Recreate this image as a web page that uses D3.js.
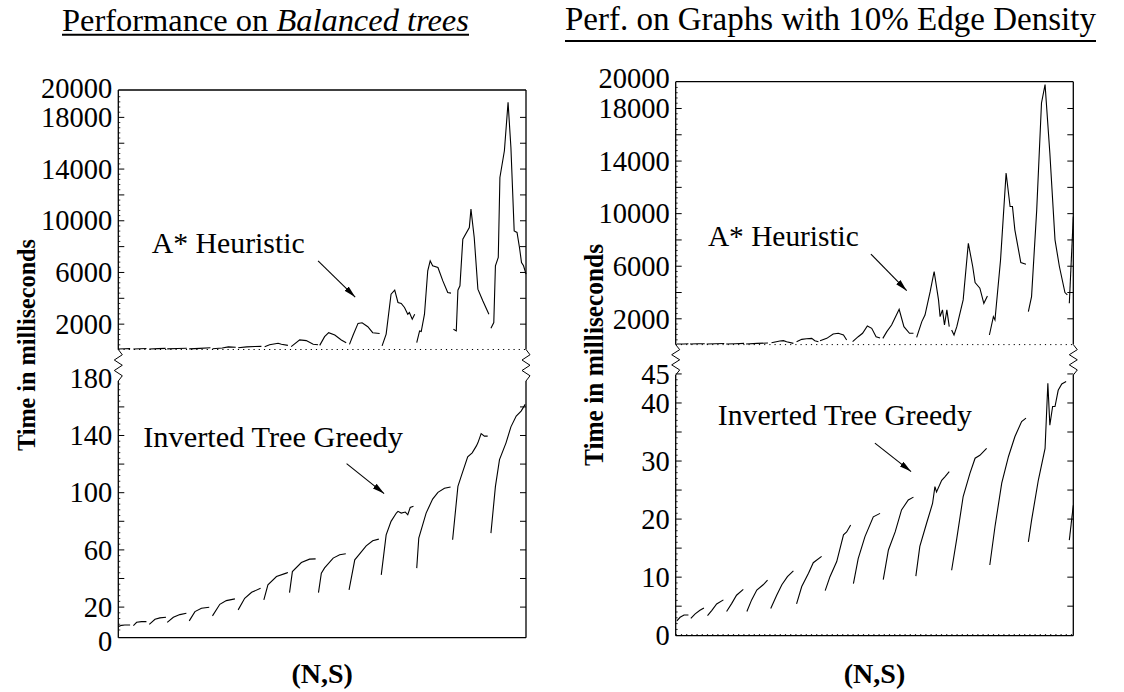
<!DOCTYPE html>
<html>
<head>
<meta charset="utf-8">
<script src="https://cdn.jsdelivr.net/npm/d3@7"></script>
<style>
  body { margin: 0; background: #fff; }
  svg text { font-family: "Liberation Serif", "Times New Roman", serif; fill: #000; }
</style>
</head>
<body>
<div id="container"></div>
<script>
/* global d3 */
const width = 1124;
const height = 692;

// x is the (N,S) case position, 0..100 across the panel; one sub-array per N group
const balancedAstar = [
  [[0, 40], [1.6, 60], [2.9, 70]],
  [[3.7, 40], [5.3, 60], [6.9, 80]],
  [[7.6, 40], [9.8, 70], [11.6, 90]],
  [[12.0, 50], [14.5, 80], [16.8, 100]],
  [[17.4, 50], [20.0, 90], [22.6, 130]],
  [[23.1, 60], [25.5, 110], [27.0, 200], [28.8, 170]],
  [[29.4, 140], [31.5, 200], [33.5, 230], [35.1, 240]],
  [[35.9, 220], [37.1, 370], [39.2, 480], [40.0, 400], [41.6, 320]],
  [[42.4, 220], [44.5, 740], [46.1, 690], [47.8, 400], [49.0, 370]],
  [[49.4, 320], [50.6, 990], [51.6, 1300], [53.1, 1120], [54.7, 740], [55.9, 530]],
  [[56.7, 400], [57.6, 1120], [58.8, 2020], [59.8, 2070], [61.2, 1760], [62.4, 1300], [64.1, 1240]],
  [[64.7, 280], [65.7, 1190], [66.9, 4280], [67.8, 4590], [68.6, 3640], [69.4, 3560], [70.2, 3250], [71.0, 2730], [71.4, 2860], [72.1, 2350], [72.7, 2730]],
  [[73.2, 540], [73.9, 1440], [74.3, 1390], [75.1, 2730], [75.9, 6090], [76.5, 6860], [77.1, 6480], [78.4, 6350], [79.6, 5310], [80.8, 4410], [81.6, 4360]],
  [[82.2, 1570], [82.9, 1440], [83.3, 4590], [83.8, 4930], [84.5, 8540], [86.1, 9440], [86.5, 10860], [87.3, 8670], [88.2, 4670], [89.4, 3770], [90.9, 2730]],
  [[91.4, 1650], [92.1, 2090], [92.5, 6480], [93.2, 7120], [93.6, 13310], [94.7, 15380], [95.6, 19120], [96.3, 15630], [97.1, 9180], [97.8, 9060], [98.4, 7890], [98.9, 6730], [99.4, 6480], [100, 5830]]
];

const balancedGreedy = [
  [[0, 6.0], [0.8, 6.9], [1.6, 7.1], [2.9, 7.1]],
  [[3.7, 6.7], [4.5, 9.0], [5.7, 9.5], [6.9, 9.5]],
  [[7.6, 7.6], [9.0, 11.1], [10.2, 12.1], [11.7, 12.5]],
  [[12.0, 9.0], [13.5, 12.5], [15.1, 14.4], [16.7, 15.3]],
  [[17.4, 10.0], [18.8, 16.5], [20.4, 18.8], [22.3, 19.5]],
  [[23.1, 13.5], [24.9, 21.6], [26.5, 24.2], [28.6, 25.4]],
  [[29.4, 17.7], [31.0, 25.8], [32.7, 30.0], [34.9, 32.8]],
  [[35.7, 24.7], [36.7, 35.2], [38.8, 41.0], [41.2, 43.4], [41.6, 43.8]],
  [[42.0, 29.8], [42.7, 44.5], [44.9, 50.8], [46.9, 53.2], [48.4, 53.4]],
  [[49.1, 29.8], [49.8, 43.4], [50.6, 47.1], [52.7, 53.9], [54.3, 56.2], [55.8, 56.9]],
  [[56.6, 31.7], [58.0, 52.7], [58.8, 55.5], [60.8, 62.5], [62.4, 66.0], [63.9, 67.2]],
  [[64.5, 42.2], [65.7, 70.2], [66.9, 79.6], [68.2, 85.4], [68.6, 86.6], [69.4, 85.4], [70.4, 86.1], [71.0, 84.2], [71.6, 89.3], [72.4, 90.1]],
  [[73.2, 46.9], [73.7, 67.9], [75.5, 85.4], [77.1, 95.2], [78.4, 99.9], [80.0, 102.7], [81.5, 103.6]],
  [[82.0, 66.7], [83.3, 104.1], [84.1, 111.1], [85.7, 124.7], [86.8, 127.5], [87.8, 132.2], [88.2, 134.5], [89.0, 141.0], [89.8, 139.2], [90.6, 139.2]],
  [[91.4, 71.4], [92.5, 104.1], [93.5, 122.8], [95.1, 134.5], [96.3, 145.7], [97.6, 153.2], [98.8, 156.7], [99.8, 161.4]]
];

const graphAstar = [
  [[0.3, 40], [2.0, 50], [3.2, 60]],
  [[3.6, 40], [5.5, 60], [7.3, 70]],
  [[7.8, 40], [10.0, 60], [12.2, 80]],
  [[12.7, 50], [15.0, 70], [17.2, 90]],
  [[17.7, 50], [20.5, 90], [23.2, 120]],
  [[24.1, 145], [26.2, 275], [27.1, 300], [27.9, 220], [29.6, 95]],
  [[30.4, 220], [31.7, 400], [32.9, 450], [34.2, 475], [35.0, 300], [35.9, 220]],
  [[36.3, 300], [38.0, 475], [39.6, 805], [40.9, 860], [42.2, 730], [43.0, 350]],
  [[44.5, 220], [45.9, 600], [47.0, 860], [48.2, 1415], [49.3, 1240], [50.4, 600], [51.4, 500]],
  [[52.1, 475], [53.1, 985], [54.3, 1490], [56.2, 2690], [57.4, 1365], [58.8, 860], [59.8, 860]],
  [[60.6, 550], [61.9, 1750], [62.7, 2250], [64.0, 4030], [65.0, 5560], [66.1, 3400], [66.5, 2130], [67.1, 2640], [67.6, 1490], [68.2, 2640], [68.8, 1365]],
  [[69.4, 1110], [70.0, 730], [70.7, 1365], [71.7, 2640], [72.3, 3400], [73.6, 7710], [74.7, 5940], [75.3, 4720], [76.5, 4290], [77.5, 3140], [78.4, 3700]],
  [[78.9, 730], [79.9, 2130], [80.3, 1870], [81.7, 6440], [83.1, 13050], [84.1, 10510], [84.7, 10510], [85.3, 8730], [86.8, 6240], [88.1, 6110]],
  [[88.7, 2510], [89.5, 3650], [90.8, 10250], [92.0, 18380], [92.9, 19780], [94.1, 14570], [95.4, 7970], [96.5, 5940], [97.9, 3960], [98.5, 3780]],
  [[99.0, 3140], [100, 9750]]
];

const graphGreedy = [
  [[0.3, 2.4], [1.1, 3.0], [2.1, 3.4], [3.2, 3.4]],
  [[3.8, 2.8], [4.9, 3.6], [6.1, 4.2], [7.1, 4.6]],
  [[8.0, 3.3], [9.1, 4.2], [10.3, 5.3], [12.0, 6.0]],
  [[12.8, 4.0], [14.1, 5.4], [15.3, 6.8], [17.0, 7.8]],
  [[17.9, 4.0], [19.1, 6.0], [20.4, 7.7], [22.0, 8.6], [23.1, 9.4]],
  [[23.9, 4.5], [25.4, 6.8], [26.7, 8.6], [28.1, 10.0], [29.6, 11.0]],
  [[30.4, 5.3], [31.7, 8.3], [33.4, 10.6], [34.6, 12.4], [36.7, 13.5]],
  [[37.6, 7.6], [38.8, 10.0], [40.5, 12.6], [42.2, 17.2], [43.0, 17.7], [44.0, 18.9]],
  [[44.7, 8.8], [45.9, 13.1], [47.6, 16.9], [49.7, 20.3], [51.4, 20.9]],
  [[52.2, 9.5], [53.5, 14.6], [55.2, 17.7], [56.8, 21.5], [58.5, 23.2], [59.8, 23.7]],
  [[60.4, 10.1], [61.4, 15.2], [63.1, 19.2], [64.6, 22.6], [65.2, 25.5], [65.6, 24.6], [66.9, 26.6], [67.7, 27.2], [68.8, 28.1]],
  [[69.4, 11.1], [70.7, 16.6], [72.3, 23.8], [74.0, 27.8], [75.3, 30.4], [76.5, 30.9], [78.2, 32.1]],
  [[79.0, 12.0], [80.3, 18.6], [82.0, 26.1], [83.7, 30.7], [85.3, 34.1], [87.0, 36.7], [88.1, 37.3]],
  [[88.7, 16.0], [89.5, 19.7], [91.2, 26.6], [92.9, 32.1], [93.6, 43.3], [94.1, 36.1], [94.8, 39.3], [95.4, 39.3], [96.2, 42.1], [97.1, 43.2], [98.2, 43.6]],
  [[99.0, 16.3], [100, 22.3]]
];

const topTickLabels = [2000, 6000, 10000, 14000, 18000, 20000];
const balancedLowLabels = [0, 20, 60, 100, 140, 180];
const graphLowLabels = [0, 10, 20, 30, 40, 45];

const svg = d3
  .select("#container")
  .append("svg")
  .attr("width", width)
  .attr("height", height);

svg
  .append("defs")
  .append("marker")
  .attr("id", "arrow")
  .attr("viewBox", "0 0 12 6")
  .attr("refX", 12)
  .attr("refY", 3)
  .attr("markerWidth", 12)
  .attr("markerHeight", 6)
  .attr("markerUnits", "userSpaceOnUse")
  .attr("orient", "auto")
  .append("path")
  .attr("d", "M0,0L12,3L0,6Z")
  .attr("fill", "#000");

// shrink/grow font so the text spans the wanted width
function fitText(sel, target) {
  const fs = parseFloat(sel.attr("font-size"));
  const w = sel.node().getComputedTextLength();
  sel.attr("font-size", (fs * target) / w);
}

function drawPanel(p) {
  const x = d3.scaleLinear([0, 100], [p.left, p.right]);
  const yTop = d3.scaleLinear([0, p.topMax], [p.breakY, p.top]);
  const yBot = d3.scaleLinear(p.botDomain, [p.bottom, p.botTop]);
  const g = svg.append("g");

  const frame = (x1, y1, x2, y2) =>
    g.append("line")
      .attr("x1", x1).attr("y1", y1).attr("x2", x2).attr("y2", y2)
      .attr("stroke", "#000").attr("stroke-width", 1.3);

  frame(p.left, p.top, p.right, p.top);
  frame(p.left, p.top, p.left, p.breakY);
  frame(p.right, p.top, p.right, p.breakY);
  frame(p.left, p.botStart, p.left, p.bottom);
  frame(p.right, p.botStart, p.right, p.bottom);
  frame(p.left, p.bottom, p.right, p.bottom);

  // zigzag break marks
  const n = 6;
  [p.left, p.right].forEach((ax) => {
    const pts = d3.range(n + 1).map((i) => [
      i === 0 || i === n ? ax : ax + (i % 2 ? 4 : -4),
      p.breakY + (i * (p.botStart - p.breakY)) / n
    ]);
    g.append("path")
      .attr("d", d3.line()(pts))
      .attr("fill", "none")
      .attr("stroke", "#000")
      .attr("stroke-width", 1);
  });

  // dotted zero lines
  g.append("line")
    .attr("x1", p.left).attr("x2", p.right)
    .attr("y1", yTop(0)).attr("y2", yTop(0))
    .attr("stroke", "#000").attr("stroke-width", 1)
    .attr("stroke-dasharray", "1.2,4");
  if (p.lowZeroDotted) {
    g.append("line")
      .attr("x1", p.left).attr("x2", p.right)
      .attr("y1", yBot(0)).attr("y2", yBot(0))
      .attr("stroke", "#000").attr("stroke-width", 1)
      .attr("stroke-dasharray", "1.2,4");
  }

  const clean = (s) => s.select(".domain").remove();

  // major ticks both sides, minor ticks on the left
  [[yTop, p.topMajor, p.topMinor], [yBot, p.lowMajor, p.lowMinor]].forEach(([sc, major, minor]) => {
    g.append("g")
      .attr("transform", `translate(${p.left},0)`)
      .call(d3.axisLeft(sc).tickValues(major).tickSize(-6).tickFormat(""))
      .call(clean);
    g.append("g")
      .attr("transform", `translate(${p.right},0)`)
      .call(d3.axisRight(sc).tickValues(major).tickSize(-6).tickFormat(""))
      .call(clean);
    g.append("g")
      .attr("transform", `translate(${p.left},0)`)
      .call(d3.axisLeft(sc).tickValues(minor).tickSize(-2).tickFormat(""))
      .call(clean)
      .selectAll("line")
      .attr("stroke-width", 0.8);
  });

  // tick labels (no thousands separator); top one and bottom zero nudged as in the original
  const labelDy = (sc, d) => {
    if (sc === yTop && d === 20000) return "0.22em";
    if (sc === yBot && d === 0) return p.zeroDy;
    return "0.34em";
  };
  [[yTop, p.topLabels], [yBot, p.lowLabels]].forEach(([sc, vals]) => {
    g.append("g")
      .attr("transform", `translate(${p.left},0)`)
      .call(d3.axisLeft(sc).tickValues(vals).tickSize(0).tickPadding(6).tickFormat(d3.format("d")))
      .call(clean)
      .attr("font-family", null)
      .attr("font-size", null)
      .selectAll("text")
      .attr("font-size", 28.5)
      .attr("dy", (d) => labelDy(sc, d));
  });

  const topLine = d3.line().x((d) => x(d[0])).y((d) => yTop(d[1]));
  const lowLine = d3.line().x((d) => x(d[0])).y((d) => yBot(d[1]));

  g.selectAll(".astar")
    .data(p.astar)
    .enter()
    .append("path")
    .attr("class", "astar")
    .attr("d", topLine)
    .attr("fill", "none")
    .attr("stroke", "#000")
    .attr("stroke-width", 1.1);

  g.selectAll(".greedy")
    .data(p.greedy)
    .enter()
    .append("path")
    .attr("class", "greedy")
    .attr("d", lowLine)
    .attr("fill", "none")
    .attr("stroke", "#000")
    .attr("stroke-width", 1.1);

  // annotations, placed in data space
  [[yTop, p.topNote], [yBot, p.lowNote]].forEach(([sc, note]) => {
    const t = g.append("text")
      .attr("x", x(note.at[0]))
      .attr("y", sc(note.at[1]))
      .attr("font-size", 29)
      .text(note.text);
    fitText(t, note.w);
    g.append("line")
      .attr("x1", x(note.from[0])).attr("y1", sc(note.from[1]))
      .attr("x2", x(note.to[0])).attr("y2", sc(note.to[1]))
      .attr("stroke", "#000").attr("stroke-width", 1.1)
      .attr("marker-end", "url(#arrow)");
  });

  // y title and x title
  g.append("text")
    .attr("transform", `translate(${p.yTitleX},${p.yTitleY}) rotate(-90)`)
    .attr("text-anchor", "middle")
    .attr("font-weight", "bold")
    .attr("font-size", p.yTitleSize)
    .attr("textLength", p.yTitleLen)
    .attr("lengthAdjust", "spacingAndGlyphs")
    .text("Time in milliseconds");

  g.append("text")
    .attr("x", (p.left + p.right) / 2)
    .attr("y", 683)
    .attr("text-anchor", "middle")
    .attr("font-weight", "bold")
    .attr("font-size", 28)
    .text("(N,S)");

  // underlined title
  const title = g.append("text")
    .attr("x", p.titleX)
    .attr("y", p.titleY)
    .attr("font-size", 32);
  p.title.forEach((part) => {
    title.append("tspan").attr("font-style", part.italic ? "italic" : null).text(part.t);
  });
  fitText(title, p.titleW);
  g.append("line")
    .attr("x1", p.titleX).attr("x2", p.titleX + p.titleW)
    .attr("y1", p.underlineY).attr("y2", p.underlineY)
    .attr("stroke", "#000").attr("stroke-width", 2);
}

drawPanel({
  left: 118.3, right: 526, top: 90, breakY: 349.5, botStart: 381, bottom: 637.7,
  topMax: 20080, botDomain: [-1.75, 183], botTop: 373.5,
  topMajor: d3.range(2000, 20000, 2000),
  topMinor: d3.range(400, 20000, 400).filter((v) => v % 2000),
  lowMajor: d3.range(20, 180, 20),
  lowMinor: d3.range(4, 180, 4).filter((v) => v % 20),
  topLabels: topTickLabels,
  lowLabels: balancedLowLabels,
  zeroDy: "0.52em",
  lowZeroDotted: false,
  astar: balancedAstar,
  greedy: balancedGreedy,
  topNote: { text: "A* Heuristic", at: [8.2, 7490], w: 153, from: [49.0, 6850], to: [58.1, 4060] },
  lowNote: { text: "Inverted Tree Greedy", at: [6.1, 131.8], w: 260, from: [56.0, 120], to: [65.2, 99] },
  yTitleX: 35, yTitleY: 345, yTitleSize: 26, yTitleLen: 212,
  title: [{ t: "Performance on " }, { t: "Balanced trees", italic: true }],
  titleX: 62, titleY: 30.5, titleW: 407, underlineY: 34.7
});

drawPanel({
  left: 675.7, right: 1073.3, top: 81.7, breakY: 344.6, botStart: 375, bottom: 635.7,
  topMax: 20000, botDomain: [-0.17, 45.3], botTop: 371.7,
  topMajor: d3.range(2000, 20000, 2000),
  topMinor: d3.range(400, 20000, 400).filter((v) => v % 2000),
  lowMajor: d3.range(5, 46, 5),
  lowMinor: d3.range(1, 45, 1).filter((v) => v % 5),
  topLabels: topTickLabels,
  lowLabels: graphLowLabels,
  zeroDy: "0.34em",
  lowZeroDotted: true,
  astar: graphAstar,
  greedy: graphGreedy,
  topNote: { text: "A* Heuristic", at: [8.1, 7500], w: 151, from: [49.1, 6890], to: [58.1, 4100] },
  lowNote: { text: "Inverted Tree Greedy", at: [10.6, 36.1], w: 254, from: [50.1, 33.0], to: [59.2, 28.1] },
  yTitleX: 603, yTitleY: 355, yTitleSize: 27, yTitleLen: 222,
  title: [{ t: "Perf. on Graphs with 10% Edge Density" }],
  titleX: 565, titleY: 29.5, titleW: 531, underlineY: 41
});
</script>
</body>
</html>
